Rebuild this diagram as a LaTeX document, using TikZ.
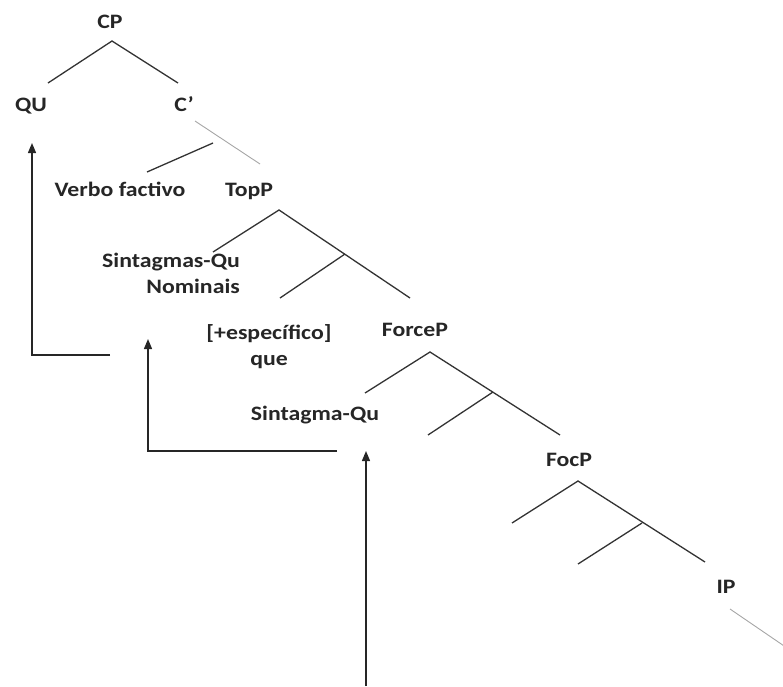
\documentclass[tikz,border=0pt]{standalone}
\usepackage{fontspec}
\setmainfont{Carlito}[FakeStretch=1.16]
\usetikzlibrary{arrows.meta}
\begin{document}
\begin{tikzpicture}[x=1pt,y=-1pt,
  lbl/.style={anchor=base,inner sep=0pt,font=\bfseries\fontsize{20.5}{26}\selectfont,text=black!85},
  branch/.style={line width=1.3pt,draw=black!80},
  faint/.style={line width=0.9pt,draw=black!35},
  move/.style={line width=1.4pt,draw=black!85,-{Triangle[length=10pt,width=8pt]}}]
\useasboundingbox (0,0) rectangle (783,686);

% labels (multi-line nodes are placed by the baseline of their last line)
\node[lbl] (cp) at (110,28) {CP};
\node[lbl] (qu) at (31,111) {QU};
\node[lbl] (cbar) at (184,111) {C’};
\node[lbl] (verbo) at (120,196) {Verbo factivo};
\node[lbl] (topp) at (249,196) {TopP};
\node[lbl,align=right,anchor=base east] (sqn) at (240,293) {Sintagmas-Qu\\Nominais};
\node[lbl,align=center] (espec) at (269,365) {[+específico]\\que};
\node[lbl] (forcep) at (415,336) {ForceP};
\node[lbl] (sqsg) at (315,420) {Sintagma-Qu};
\node[lbl] (focp) at (569,466) {FocP};
\node[lbl] (ip) at (726,593) {IP};

% branch points
\coordinate (cpTop) at (112,41);
\coordinate (cpL) at (48,83);
\coordinate (cpR) at (178,83);
\coordinate (cbS) at (195,121);
\coordinate (cbM) at (213,143);
\coordinate (cbL) at (147,172);
\coordinate (cbR) at (260,164);
\coordinate (tpTop) at (279,210);
\coordinate (tpL) at (213,252);
\coordinate (tpM) at (345,254);
\coordinate (tpML) at (280,298);
\coordinate (tpR) at (410,298);
\coordinate (fpTop) at (430,352);
\coordinate (fpL) at (365,393);
\coordinate (fpM) at (493,392);
\coordinate (fpML) at (428,435);
\coordinate (fpR) at (560,435);
\coordinate (fcTop) at (578,481);
\coordinate (fcL) at (512,523);
\coordinate (fcM) at (642,523);
\coordinate (fcML) at (578,564);
\coordinate (fcR) at (705,562);
\coordinate (ipS) at (730,609);
\coordinate (ipE) at (790,650);

% tree
\draw[branch] (cpL) -- (cpTop) -- (cpR);
\draw[faint] (cbS) -- (cbR);
\draw[branch] (cbM) -- (cbL);
\draw[branch] (tpL) -- (tpTop) -- (tpR);
\draw[branch] (tpM) -- (tpML);
\draw[branch] (fpL) -- (fpTop) -- (fpR);
\draw[branch] (fpM) -- (fpML);
\draw[branch] (fcL) -- (fcTop) -- (fcR);
\draw[branch] (fcM) -- (fcML);
\draw[faint] (ipS) -- (ipE);

% movement arrows
\coordinate (a1s) at (110,355);
\coordinate (a1c) at (32,355);
\coordinate (a1t) at (32,143);
\draw[move] (a1s) -- (a1c) -- (a1t);
\coordinate (a2s) at (337,451);
\coordinate (a2c) at (148,451);
\coordinate (a2t) at (148,339);
\draw[move] (a2s) -- (a2c) -- (a2t);
\coordinate (a3s) at (366,686);
\coordinate (a3t) at (366,451);
\draw[move] (a3s) -- (a3t);
\end{tikzpicture}
\end{document}
